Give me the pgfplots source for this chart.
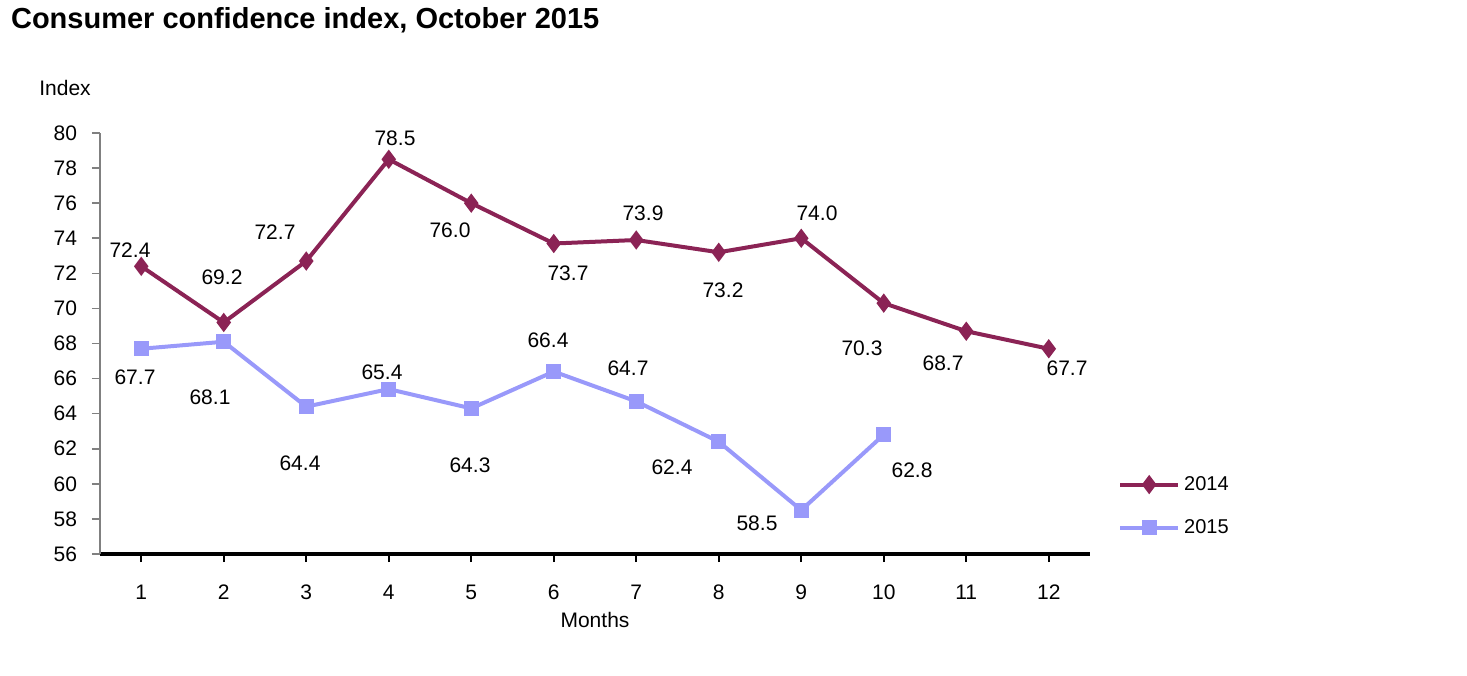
\documentclass[border=0pt]{standalone}
\usepackage{pgfplots}
\pgfplotsset{compat=1.18}
\usepackage{fontspec}
\setmainfont{Liberation Sans}
\definecolor{cA}{RGB}{139,35,85}
\definecolor{cB}{RGB}{153,153,250}
\begin{document}
\begin{tikzpicture}
\path (0pt,0pt) rectangle (733.5pt,337.5pt);
\node[anchor=west,font=\bfseries\fontsize{14.5}{16}\selectfont] at (2pt,327.5pt) {Consumer confidence index, October 2015};
\node[font=\fontsize{10.5}{12}\selectfont] at (32.5pt,293.5pt) {Index};
\begin{axis}[
  at={(50pt,60.5pt)}, anchor=south west,
  scale only axis, width=495pt, height=210.5pt,
  xmin=0.5, xmax=12.5, ymin=56, ymax=80,
  xtick={1,...,12}, ytick={56,58,...,80},
  axis lines=left,
  axis line style={-},
  x axis line style={black, line width=1.6pt},
  y axis line style={gray, line width=1pt},
  tick align=outside, major tick length=4pt,
  xtick style={black, line width=0.8pt},
  ytick style={gray, line width=0.8pt},
  ticklabel style={font=\fontsize{10.5}{12}\selectfont},
  /pgf/number format/assume math mode=true,
  xticklabel style={yshift=-8pt},
  yticklabel style={xshift=-4pt},
  xlabel={Months},
  xlabel style={at={(axis description cs:0.5,0)}, anchor=center, yshift=-33pt, font=\fontsize{10.5}{12}\selectfont},
  legend style={at={(rel axis cs:1.022,0.205)}, anchor=north west, draw=none, fill=none,
    font=\fontsize{10}{12}\selectfont, row sep=9pt},
  legend cell align=left,
  legend image code/.code={\draw[mark repeat=2,mark phase=2,#1] plot coordinates {(0pt,0pt) (14.5pt,0pt) (29pt,0pt)};},
]
\addplot[color=cA, line width=2pt, mark=diamond*, mark size=3.2pt] coordinates {
 (1,72.4) (2,69.2) (3,72.7) (4,78.5) (5,76.0) (6,73.7) (7,73.9) (8,73.2) (9,74.0) (10,70.3) (11,68.7) (12,67.7)};
\addlegendentry{2014}
\addplot[color=cB, line width=2pt, mark=square*, mark size=2.8pt] coordinates {
 (1,67.7) (2,68.1) (3,64.4) (4,65.4) (5,64.3) (6,66.4) (7,64.7) (8,62.4) (9,58.5) (10,62.8)};
\addlegendentry{2015}
\end{axis}
\begin{scope}[every node/.style={font=\fontsize{10.5}{12}\selectfont}]
\node at (65pt,212.5pt) {72.4};
\node at (111pt,199pt) {69.2};
\node at (137.5pt,221.5pt) {72.7};
\node at (197.5pt,268.5pt) {78.5};
\node at (225pt,222.5pt) {76.0};
\node at (284pt,201pt) {73.7};
\node at (321.5pt,231pt) {73.9};
\node at (361.5pt,192.5pt) {73.2};
\node at (408.5pt,231pt) {74.0};
\node at (431pt,163.5pt) {70.3};
\node at (471.5pt,156pt) {68.7};
\node at (533.5pt,153.5pt) {67.7};
\node at (67.5pt,149pt) {67.7};
\node at (105pt,139pt) {68.1};
\node at (150pt,106pt) {64.4};
\node at (191pt,151.5pt) {65.4};
\node at (235pt,105pt) {64.3};
\node at (274pt,167.5pt) {66.4};
\node at (314pt,153.5pt) {64.7};
\node at (336pt,104pt) {62.4};
\node at (378.5pt,76pt) {58.5};
\node at (456pt,102.5pt) {62.8};
\end{scope}
\end{tikzpicture}
\end{document}
